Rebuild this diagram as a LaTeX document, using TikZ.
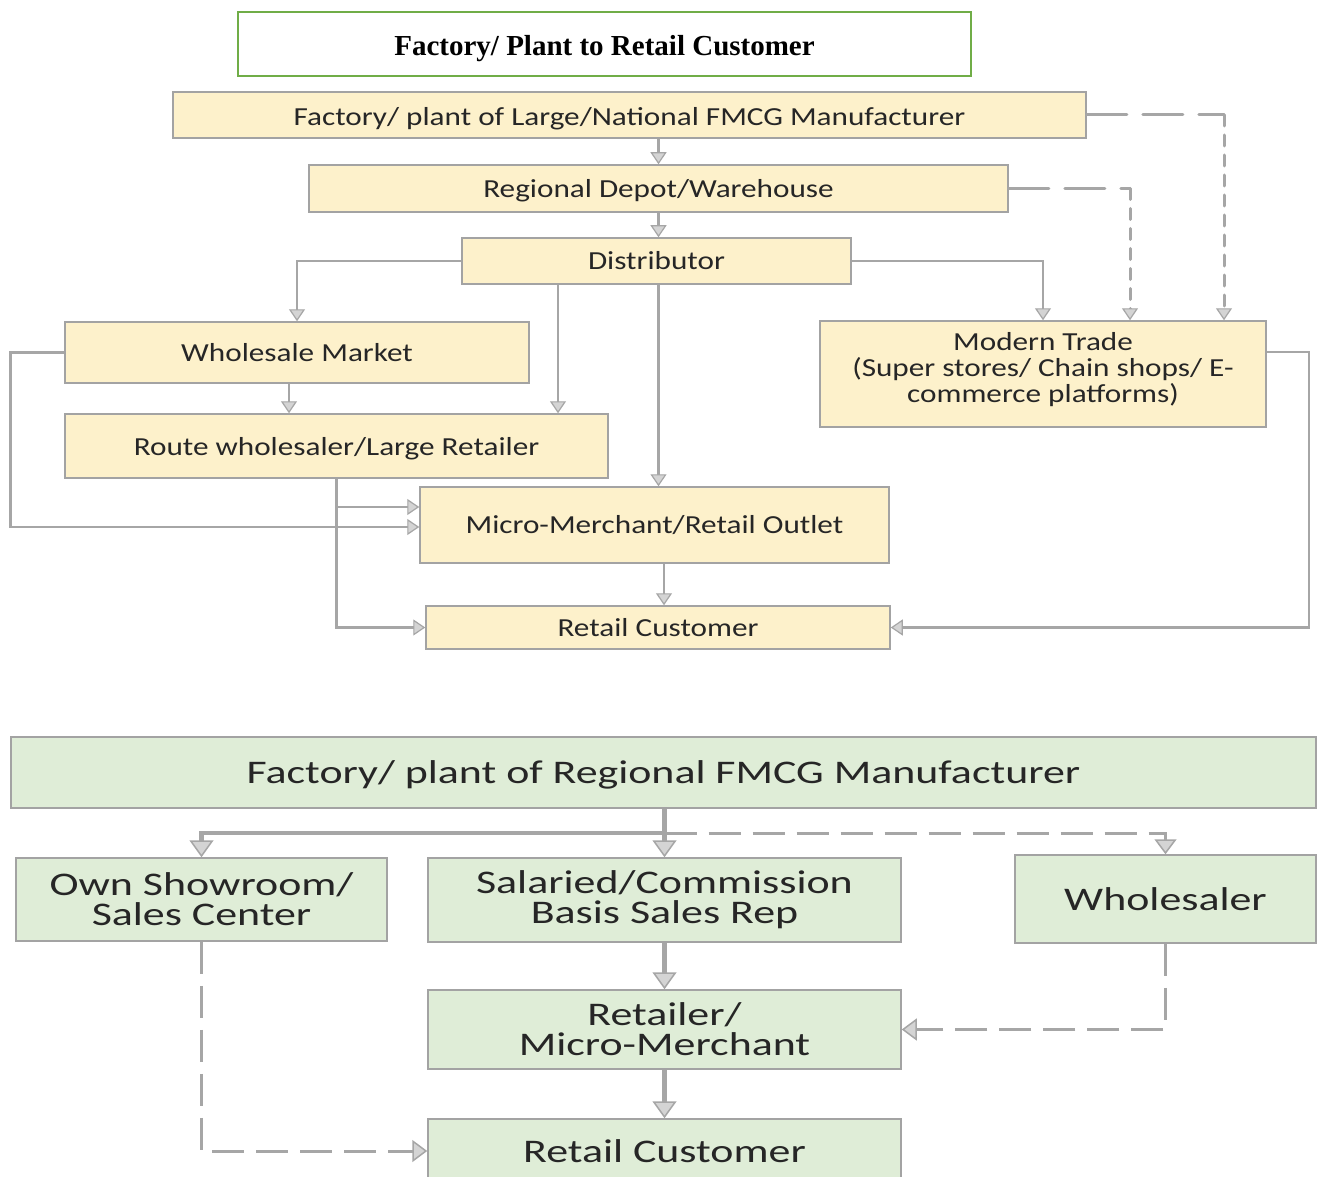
\documentclass[tikz,border=0pt]{standalone}
\usepackage{fontspec}
\setmainfont{Carlito}
\newfontfamily\topfont[FakeStretch=1.2]{Carlito}
\newfontfamily\botfont[FakeStretch=1.33]{Carlito}
\newfontfamily\titlefont{Liberation Serif}
\usetikzlibrary{arrows.meta,calc}
\definecolor{ybox}{HTML}{FDF1CB}
\definecolor{gbox}{HTML}{DFEDD7}
\definecolor{bord}{HTML}{A3A3A3}
\definecolor{lin}{HTML}{A6A6A6}
\definecolor{tipf}{HTML}{D4D4D4}
\definecolor{tgreen}{HTML}{70AD47}
\definecolor{txt}{HTML}{262626}
\newcommand{\lowr}[2]{\raisebox{-#1}[\height][\depth]{#2}}
\tikzset{
  ynode/.style={draw=bord, line width=1.5pt, fill=ybox, text=txt, align=center, inner sep=0pt,
    font=\topfont\fontsize{26}{26}\selectfont},
  gnode/.style={draw=bord, line width=1.5pt, fill=gbox, text=txt, align=center, inner sep=0pt,
    font=\botfont\fontsize{33}{30}\selectfont},
  conn/.style={draw=lin, line width=2.5pt, -{Triangle[length=12pt, width=16pt, line width=1.2pt, fill=tipf]}},
  dhor/.style={draw=lin, line width=3pt, dash pattern=on 40pt off 16pt, line cap=round},
  dver/.style={draw=lin, line width=3pt, dash pattern=on 11pt off 9pt, line cap=round,
    -{Triangle[length=12pt, width=16pt, line width=1.2pt, fill=tipf]}},
  bconn/.style={draw=lin, line width=4.5pt, -{Triangle[length=17pt, width=24pt, line width=1.5pt, fill=tipf]}},
  bdash/.style={draw=lin, line width=3pt, dash pattern=on 32pt off 12pt,
    -{Triangle[length=15pt, width=22pt, line width=1.5pt, fill=tipf]}},
}
\begin{document}
\begin{tikzpicture}[x=1pt,y=-1pt]
\useasboundingbox (0,0) rectangle (1320,1177);
\fill[white] (0,0) rectangle (1320,1177);
% title
\node[draw=tgreen, line width=2pt, minimum width=733pt, minimum height=64pt, inner sep=0pt,
  font=\titlefont\bfseries\fontsize{29}{29}\selectfont] (title) at (604.5,44) {\lowr{5pt}{Factory/ Plant to Retail Customer}};
% top boxes
\node[ynode, minimum width=913pt, minimum height=46pt] (fac) at (629.5,115) {\lowr{4pt}{Factory/ plant of Large/National FMCG Manufacturer}};
\node[ynode, minimum width=699pt, minimum height=47pt] (dep) at (658.5,188.5) {\lowr{2pt}{Regional Depot/Warehouse}};
\node[ynode, minimum width=389pt, minimum height=46pt] (dist) at (656.5,261) {Distributor};
\node[ynode, minimum width=464pt, minimum height=61pt] (wm) at (297,352.5) {Wholesale Market};
\node[ynode, minimum width=543pt, minimum height=64pt] (rw) at (336.5,446) {\lowr{3pt}{Route wholesaler/Large Retailer}};
\node[ynode, minimum width=469pt, minimum height=76pt] (mm) at (654.5,525) {Micro-Merchant/Retail Outlet};
\node[ynode, minimum width=464pt, minimum height=43pt] (rc) at (658,627.5) {Retail Customer};
\node[ynode, minimum width=446pt, minimum height=106pt] (mt) at (1043,374) {Modern Trade\\(Super stores/ Chain shops/ E-\\commerce platforms)\\[-12pt]};
% top connectors
\draw[conn] (dep.north |- fac.south) -- (dep.north);
\draw[conn] ([xshift=2pt]dist.north |- dep.south) -- ([xshift=2pt]dist.north);
\draw[conn] (dist.west) -| (wm.north);
\draw[conn] (dist.east) -| (mt.north);
\draw[conn] ([xshift=-98.5pt]dist.south) -- ([xshift=-98.5pt]dist.south |- rw.north);
\draw[conn] ([xshift=2pt]dist.south) -- ([xshift=2pt]dist.south |- mm.north);
\draw[conn] ([xshift=-8pt]wm.south) -- ([xshift=-8pt]wm.south |- rw.north);
\draw[conn] (wm.west) -- ++(-54,0) |- ([yshift=-2pt]mm.west);
\coordinate (mmin) at ([yshift=18pt]mm.west);
\draw[conn] (rw.south) |- (rc.west);
\draw[conn] (rw.south |- mmin) -- (mmin);
\draw[conn] ([xshift=6pt]rc.north |- mm.south) -- ([xshift=6pt]rc.north);
\draw[conn] ([yshift=22pt]mt.east) -- ++(42,0) |- (rc.east);
\coordinate (c1) at (1224,115);
\coordinate (c2) at (1130,188.5);
\draw[dhor] (fac.east) -- (c1);
\draw[dver] (c1) -- (c1 |- mt.north);
\draw[dhor] (dep.east) -- (c2);
\draw[dver] (c2) -- (c2 |- mt.north);
% bottom boxes
\node[gnode, minimum width=1305pt, minimum height=71pt] (rfac) at (663.5,772.5) {\lowr{2pt}{Factory/ plant of Regional FMCG Manufacturer}};
\node[gnode, minimum width=371pt, minimum height=83pt] (own) at (201.5,899.5) {Own Showroom/\\Sales Center};
\node[gnode, minimum width=473pt, minimum height=84pt] (sal) at (664.5,900) {Salaried/Commission\\Basis Sales Rep};
\node[gnode, minimum width=301pt, minimum height=88pt] (whs) at (1165.5,899) {Wholesaler};
\node[gnode, minimum width=473pt, minimum height=79pt] (ret) at (664.5,1029.5) {Retailer/\\Micro-Merchant};
\node[gnode, minimum width=473pt, minimum height=64pt] (brc) at (664.5,1151) {Retail Customer};
% bottom connectors
\draw[bconn] (sal.north |- rfac.south) -- (sal.north);
\coordinate (b1) at (664.5,833);
\draw[bconn] (b1) -| (own.north);
\draw[bdash] (b1) -| (whs.north);
\draw[bconn] (sal.south) -- (ret.north);
\draw[bconn] (ret.south) -- (brc.north);
\draw[bdash] (own.south) |- (brc.west);
\draw[bdash] (whs.south) |- (ret.east);
\end{tikzpicture}
\end{document}
